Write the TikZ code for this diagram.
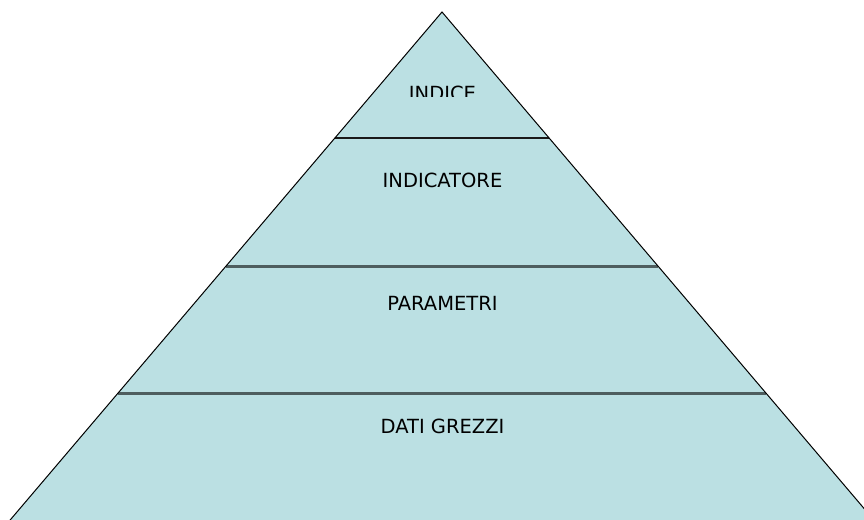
\documentclass[tikz,border=0pt]{standalone}
\usepackage{fontspec}
\setmainfont{DejaVu Sans}
\definecolor{pyrfill}{RGB}{187,224,227}
\definecolor{bandline}{RGB}{78,94,95}
\begin{document}
\begin{tikzpicture}[x=1pt,y=-1pt,
  label/.style={font=\fontsize{19.5}{19.5}\selectfont, text=black, anchor=base, inner sep=0pt},
  sepline/.style={draw=bandline, line width=3pt},
  topline/.style={draw=black!90, line width=2.2pt}]
\useasboundingbox (0,0) rectangle (864,519);
\clip (0,0) rectangle (864,519);
\coordinate (A) at (442,12);
\coordinate (BL) at (8.45,522);
\coordinate (BR) at (875.55,522);
\fill[pyrfill] (A) -- (BL) -- (BR) -- cycle;
\coordinate (L1) at (334.9,138); \coordinate (R1) at (549.1,138);
\coordinate (L2) at (226.1,266); \coordinate (R2) at (657.9,266);
\coordinate (L3) at (118.1,393); \coordinate (R3) at (765.9,393);
\draw[topline] (L1) -- (R1);
\draw[sepline] (L2) -- (R2);
\draw[sepline] (L3) -- (R3);
\draw[black, line width=1pt] (BL) -- (A) -- (BR);
\begin{scope}
\clip (0,0) rectangle (864,96.5);
\node[label] (indice) at (442.5,100) {INDICE};
\end{scope}
\node[label] (indicatore) at (442.5,187) {INDICATORE};
\node[label] (parametri) at (442.5,310) {PARAMETRI};
\node[label] (dati) at (442.5,433) {DATI GREZZI};
\end{tikzpicture}
\end{document}
